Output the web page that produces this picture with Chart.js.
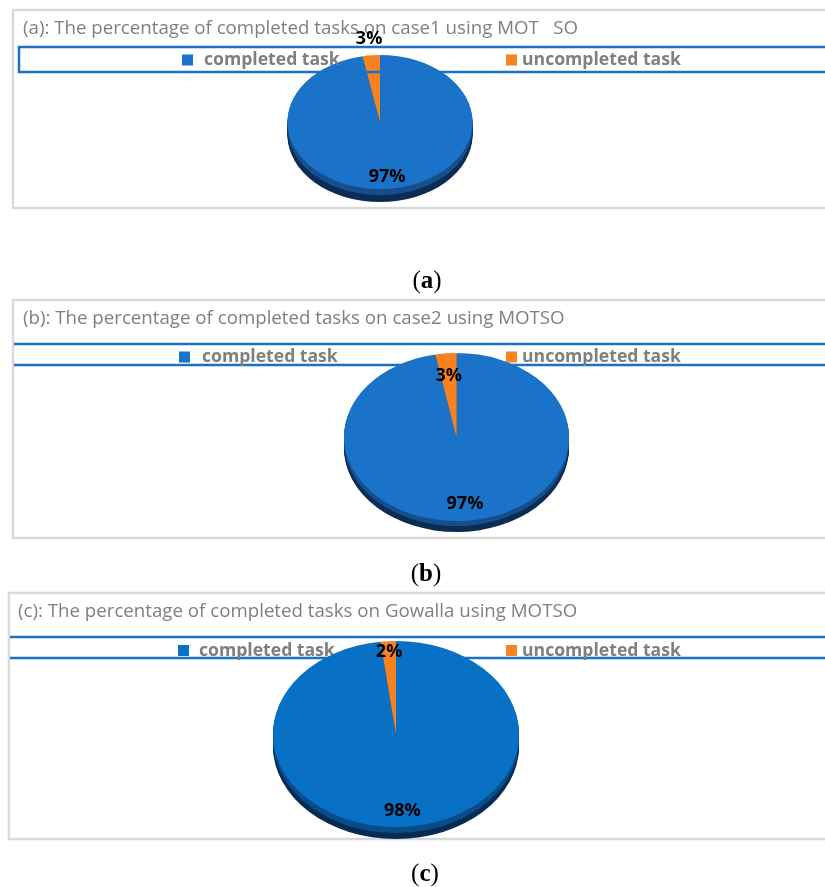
<!DOCTYPE html>
<html>
<head>
<meta charset="utf-8">
<script src="https://cdn.jsdelivr.net/npm/chart.js@4.4.1/dist/chart.umd.min.js"></script>
<style>
body { margin: 0; background: #fff; }
#page { position: relative; width: 825px; height: 887px; overflow: hidden; }
canvas { position: absolute; left: 0; }
.cap { position: absolute; width: 60px; height: 30px; line-height: 30px; text-align: center;
       font-family: "Liberation Serif", "DejaVu Serif", serif; font-size: 25px; color: #000; }
</style>
</head>
<body>
<div id="page">
  <canvas id="chartA" width="825" height="232" style="top:0px"></canvas>
  <canvas id="chartB" width="825" height="262" style="top:290px"></canvas>
  <canvas id="chartC" width="825" height="276" style="top:585px"></canvas>
  <div class="cap" style="left:397px;top:265px">(<b>a</b>)</div>
  <div class="cap" style="left:396px;top:558px">(<b>b</b>)</div>
  <div class="cap" style="left:395px;top:858px">(<b>c</b>)</div>
</div>
<script>
// data
const categories = ['completed task', 'uncompleted task'];
const case1Values = [97, 3];
const case2Values = [97, 3];
const gowallaValues = [98, 2];
const titles = [
  '(a): The percentage of completed tasks on case1 using MOT   SO',
  '(b): The percentage of completed tasks on case2 using MOTSO',
  '(c): The percentage of completed tasks on Gowalla using MOTSO'
];

const GRAY_TXT = '#7f7f7f';
const LEGEND_BLUE = '#1a72c6';
const FONT = '"Open Sans", "Liberation Sans", Arial, sans-serif';

// draws frame, title, legend box, the squashed 3D look and the % labels
const panelPlugin = {
  id: 'panel',
  beforeDraw(chart, args, o) {
    const ctx = chart.ctx;
    ctx.save();
    ctx.strokeStyle = '#d9d9d9';
    ctx.lineWidth = 2.5;
    ctx.strokeRect(o.frame[0], o.frame[1], 1000, o.frame[2] - o.frame[1]);
    ctx.fillStyle = GRAY_TXT;
    ctx.font = '18.7px ' + FONT;
    ctx.textBaseline = 'middle';
    ctx.fillText(o.title, o.titleX, o.titleY);
    ctx.restore();
    if (!o.legendOnTop) drawLegend(chart, o);
  },
  beforeDatasetsDraw(chart, args, o) {
    const ctx = chart.ctx;
    const arcs = chart.getDatasetMeta(0).data;
    const sy = o.ry / arcs[0].outerRadius;
    ctx.save();
    ctx.translate(arcs[0].x, arcs[0].y);
    ctx.scale(1, sy);
    ctx.translate(-arcs[0].x, -arcs[0].y);
    // side of the pie
    for (let d = o.depth; d >= 1; d--) {
      arcs.forEach((a, i) => {
        ctx.beginPath();
        ctx.moveTo(a.x, a.y + d / sy);
        ctx.arc(a.x, a.y + d / sy, a.outerRadius, a.startAngle, a.endAngle);
        ctx.closePath();
        ctx.fillStyle = d > o.depth / 2 ? o.sides[i][1] : o.sides[i][0];
        ctx.fill();
      });
    }
  },
  afterDatasetsDraw(chart, args, o) {
    const ctx = chart.ctx;
    ctx.restore();
    if (o.legendOnTop) drawLegend(chart, o);
    const arcs = chart.getDatasetMeta(0).data;
    const vals = chart.data.datasets[0].data;
    const total = vals.reduce((s, v) => s + v, 0);
    const sy = o.ry / arcs[0].outerRadius;
    ctx.save();
    ctx.fillStyle = '#000';
    ctx.font = 'bold 18px ' + FONT;
    ctx.textAlign = 'center';
    ctx.textBaseline = 'middle';
    arcs.forEach((a, i) => {
      const mid = (a.startAngle + a.endAngle) / 2;
      const r = a.outerRadius * o.labelPos[i];
      const x = a.x + Math.cos(mid) * r;
      const y = a.y + Math.sin(mid) * r * sy;
      ctx.fillText(Math.round(vals[i] / total * 100) + '%', x, y);
    });
    ctx.restore();
  }
};

function drawLegend(chart, o) {
  const ctx = chart.ctx;
  const ds = chart.data.datasets[0];
  ctx.save();
  ctx.strokeStyle = LEGEND_BLUE;
  ctx.lineWidth = 2.5;
  if (o.legendFull) {
    ctx.strokeRect(o.legendX, o.legendTop, 1000, o.legendBottom - o.legendTop);
  } else {
    ctx.beginPath();
    ctx.moveTo(o.legendX, o.legendTop); ctx.lineTo(900, o.legendTop);
    ctx.moveTo(o.legendX, o.legendBottom); ctx.lineTo(900, o.legendBottom);
    ctx.stroke();
  }
  ctx.font = 'bold 17.6px ' + FONT;
  ctx.textBaseline = 'middle';
  chart.data.labels.forEach((lab, i) => {
    ctx.fillStyle = ds.backgroundColor[i];
    ctx.fillRect(o.itemX[i], o.itemY - 5.5, 11, 11);
    ctx.fillStyle = GRAY_TXT;
    ctx.fillText(lab, o.textX[i], o.itemY);
  });
  ctx.restore();
}

function makePie(id, values, colors, p) {
  const cv = document.getElementById(id);
  const W = cv.width, H = cv.height;
  return new Chart(cv, {
    type: 'pie',
    data: {
      labels: categories,
      datasets: [{ data: values, backgroundColor: colors, borderWidth: 0 }]
    },
    options: {
      responsive: false,
      animation: false,
      events: [],
      layout: {
        padding: { left: p.cx - p.rx, right: W - p.cx - p.rx, top: p.cy - p.rx, bottom: H - p.cy - p.rx }
      },
      plugins: { legend: { display: false }, tooltip: { enabled: false }, panel: p }
    },
    plugins: [panelPlugin]
  });
}

const colAB = ['#1a73c8', '#f7821f'];
const colC = ['#0871c6', '#f7821f'];
const sideAB = [['#174f8c', '#0c2d55'], ['#b25a12', '#8a440c']];
const sideC = [['#0c4c88', '#062c55'], ['#b25a12', '#8a440c']];

makePie('chartA', case1Values, colAB, {
  title: titles[0], titleX: 23, titleY: 29, frame: [13, 10, 208],
  legendFull: true, legendOnTop: true, legendX: 19, legendTop: 47, legendBottom: 72,
  itemX: [182, 506], textX: [204, 522], itemY: 60,
  cx: 380, cy: 122, rx: 92.5, ry: 67, depth: 13, labelPos: [0.82, 1.25], sides: sideAB
});
makePie('chartB', case2Values, colAB, {
  title: titles[1], titleX: 23, titleY: 29, frame: [13, 10, 248],
  legendFull: false, legendOnTop: false, legendX: 14, legendTop: 54, legendBottom: 75,
  itemX: [179, 506], textX: [202, 522], itemY: 67,
  cx: 456.5, cy: 147, rx: 112.5, ry: 84, depth: 11, labelPos: [0.80, 0.73], sides: sideAB
});
makePie('chartC', gowallaValues, colC, {
  title: titles[2], titleX: 18, titleY: 27, frame: [9, 8, 254],
  legendFull: false, legendOnTop: false, legendX: 10, legendTop: 52, legendBottom: 73,
  itemX: [178, 506], textX: [199, 522], itemY: 65.5,
  cx: 396, cy: 149, rx: 123, ry: 93, depth: 12, labelPos: [0.83, 0.89], sides: sideC
});
</script>
</body>
</html>
